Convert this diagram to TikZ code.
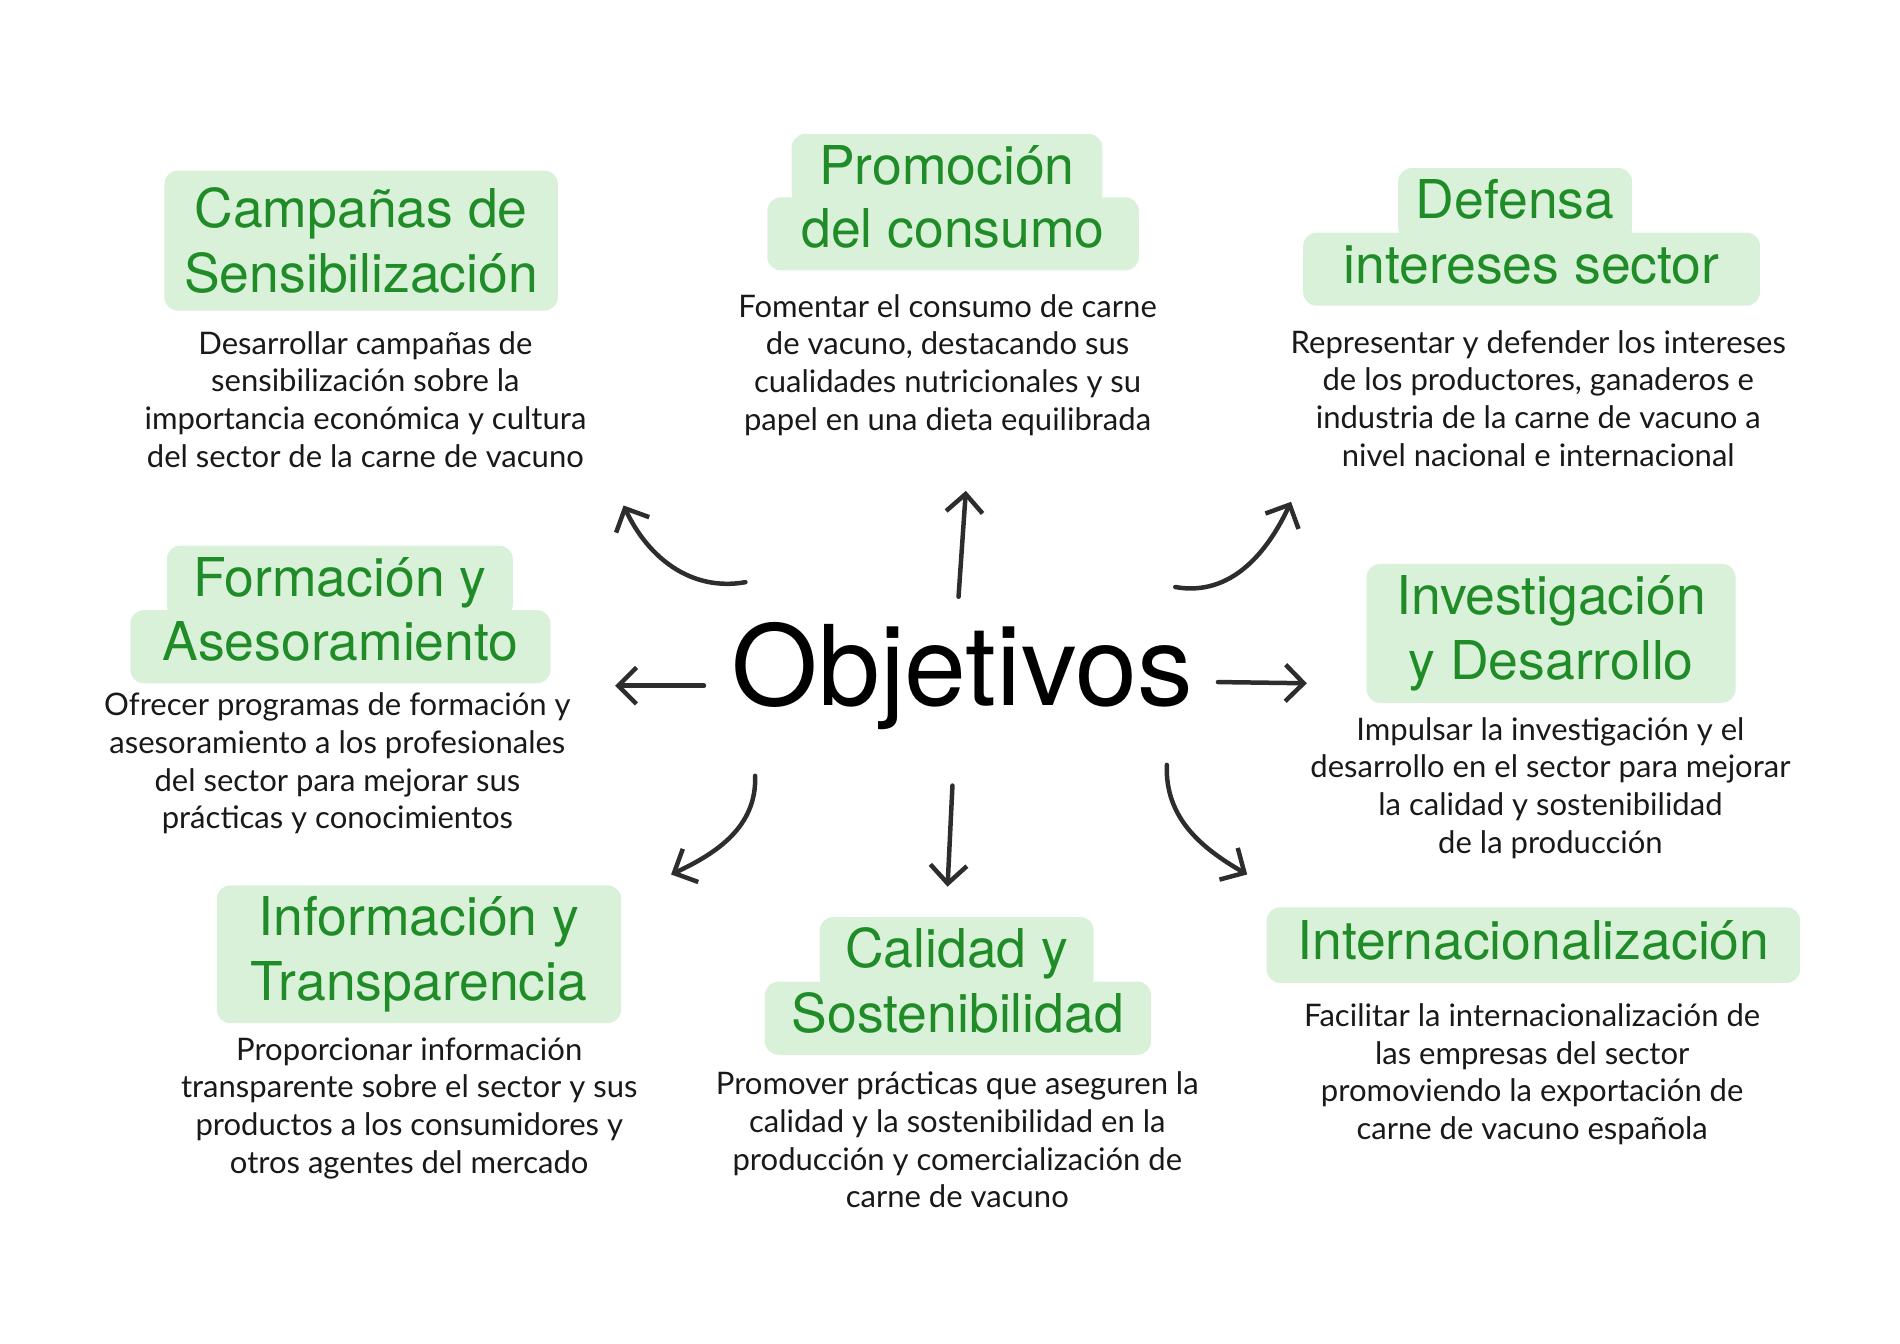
\documentclass[tikz,border=0pt]{standalone}
\usepackage{fontspec}
\setmainfont{Lato}
\newfontfamily\headfont{TeX Gyre Heros}
\usepackage{xcolor}
\usepackage{tikz}
\usetikzlibrary{arrows.meta}
\definecolor{boxgreen}{RGB}{217,240,217}
\definecolor{headgreen}{RGB}{31,140,40}
\definecolor{bodygray}{RGB}{25,25,25}
\definecolor{arrowgray}{RGB}{45,45,45}
\tikzset{
    headbox/.style = {rectangle, rounded corners=0.22cm, fill=boxgreen, text=headgreen, align=center, inner sep=0pt, font=\headfont\fontsize{25}{30}\selectfont},
    headtier/.style = {headbox, minimum height=1.2cm, text height=18.5pt, text depth=5.3pt},
    bodytext/.style = {align=center, text=bodygray, font=\fontsize{14.5}{17.6}\selectfont},
    objnode/.style = {text=black, font=\headfont\fontsize{52}{60}\selectfont},
}
\begin{document}
\begin{tikzpicture}[
	thick
]
\tikzset{
    arr/.style = {-{Straight Barb[length=3mm,width=6mm]}, line width=2.1pt, draw=arrowgray, line cap=round, line join=round},
}
\useasboundingbox (0,0) rectangle (31.2,-22.06);
%
\node[objnode] (obj) at (15.8,-11.1) {Objetivos};
%
\node[headbox, minimum width=6.46cm, minimum height=2.3cm] (campA) at (5.93,-3.95) {Campañas de\\Sensibilización};
\node[bodytext] (campT) at (6.0,-6.56) {Desarrollar campañas de\\sensibilización sobre la\\importancia económica y cultura\\del sector de la carne de vacuno};
%
\node[headtier, minimum width=6.1cm] (promB) at (15.65,-3.84) {del consumo};
\node[headtier, minimum width=5.1cm] (promA) at (15.55,-2.8) {Promoción};
\node[bodytext] (promT) at (15.56,-5.99) {Fomentar el consumo de carne\\de vacuno, destacando sus\\cualidades nutricionales y su\\papel en una dieta equilibrada};
%
\node[headtier, minimum width=7.5cm] (defB) at (25.15,-4.42) {intereses sector};
\node[headtier, minimum width=3.84cm] (defA) at (24.88,-3.36) {Defensa};
\node[bodytext] (defT) at (25.26,-6.54) {Representar y defender los intereses\\de los productores, ganaderos e\\industria de la carne de vacuno a\\nivel nacional e internacional};
%
\node[headtier, minimum width=6.9cm] (formB) at (5.59,-10.62) {Asesoramiento};
\node[headtier, minimum width=5.68cm] (formA) at (5.58,-9.56) {Formación y};
\node[bodytext] (formT) at (5.54,-12.54) {Ofrecer programas de formación y\\asesoramiento a los profesionales\\del sector para mejorar sus\\prácticas y conocimientos};
%
\node[headbox, minimum width=6.06cm, minimum height=2.28cm] (invA) at (25.47,-10.4) {Investigación\\y Desarrollo};
\node[bodytext] (invT) at (25.46,-12.94) {Impulsar la investigación y el\\desarrollo en el sector para mejorar\\la calidad y sostenibilidad\\de la producción};
%
\node[headbox, minimum width=6.64cm, minimum height=2.26cm] (infoA) at (6.88,-15.67) {Información y\\Transparencia};
\node[bodytext] (infoT) at (6.72,-18.2) {Proporcionar información\\transparente sobre el sector y sus\\productos a los consumidores y\\otros agentes del mercado};
%
\node[headtier, minimum width=6.34cm] (calB) at (15.73,-16.72) {Sostenibilidad};
\node[headtier, minimum width=4.5cm] (calA) at (15.71,-15.66) {Calidad y};
\node[bodytext] (calT) at (15.72,-18.72) {Promover prácticas que aseguren la\\calidad y la sostenibilidad en la\\producción y comercialización de\\carne de vacuno};
%
\node[headtier, minimum width=8.76cm, minimum height=1.24cm] (intA) at (25.18,-15.52) {Internacionalización};
\node[bodytext] (intT) at (25.16,-17.64) {Facilitar la internacionalización de\\las empresas del sector\\promoviendo la exportación de\\carne de vacuno española};
%
\coordinate (nwA) at (12.24,-9.56);
\coordinate (nwB) at (10.24,-8.3);
\coordinate (nA) at (15.74,-9.8);
\coordinate (nB) at (15.86,-8.06);
\coordinate (neA) at (19.3,-9.64);
\coordinate (neB) at (21.2,-8.24);
\coordinate (wA) at (11.56,-11.26);
\coordinate (wB) at (10.1,-11.26);
\coordinate (eA) at (20.0,-11.2);
\coordinate (eB) at (21.46,-11.22);
\coordinate (swA) at (12.4,-12.74);
\coordinate (swB) at (11.02,-14.36);
\coordinate (sA) at (15.64,-12.9);
\coordinate (sB) at (15.56,-14.56);
\coordinate (seA) at (19.16,-12.56);
\coordinate (seB) at (20.48,-14.36);
%
\draw[arr] (nwA) to[out=190,in=-65] (nwB);
\draw[arr] (nA) -- (nB);
\draw[arr] (neA) to[out=-10,in=-115] (neB);
\draw[arr] (wA) -- (wB);
\draw[arr] (eA) -- (eB);
\draw[arr] (swA) to[out=-88,in=25] (swB);
\draw[arr] (sA) -- (sB);
\draw[arr] (seA) to[out=-92,in=150] (seB);
\end{tikzpicture}
\end{document}
